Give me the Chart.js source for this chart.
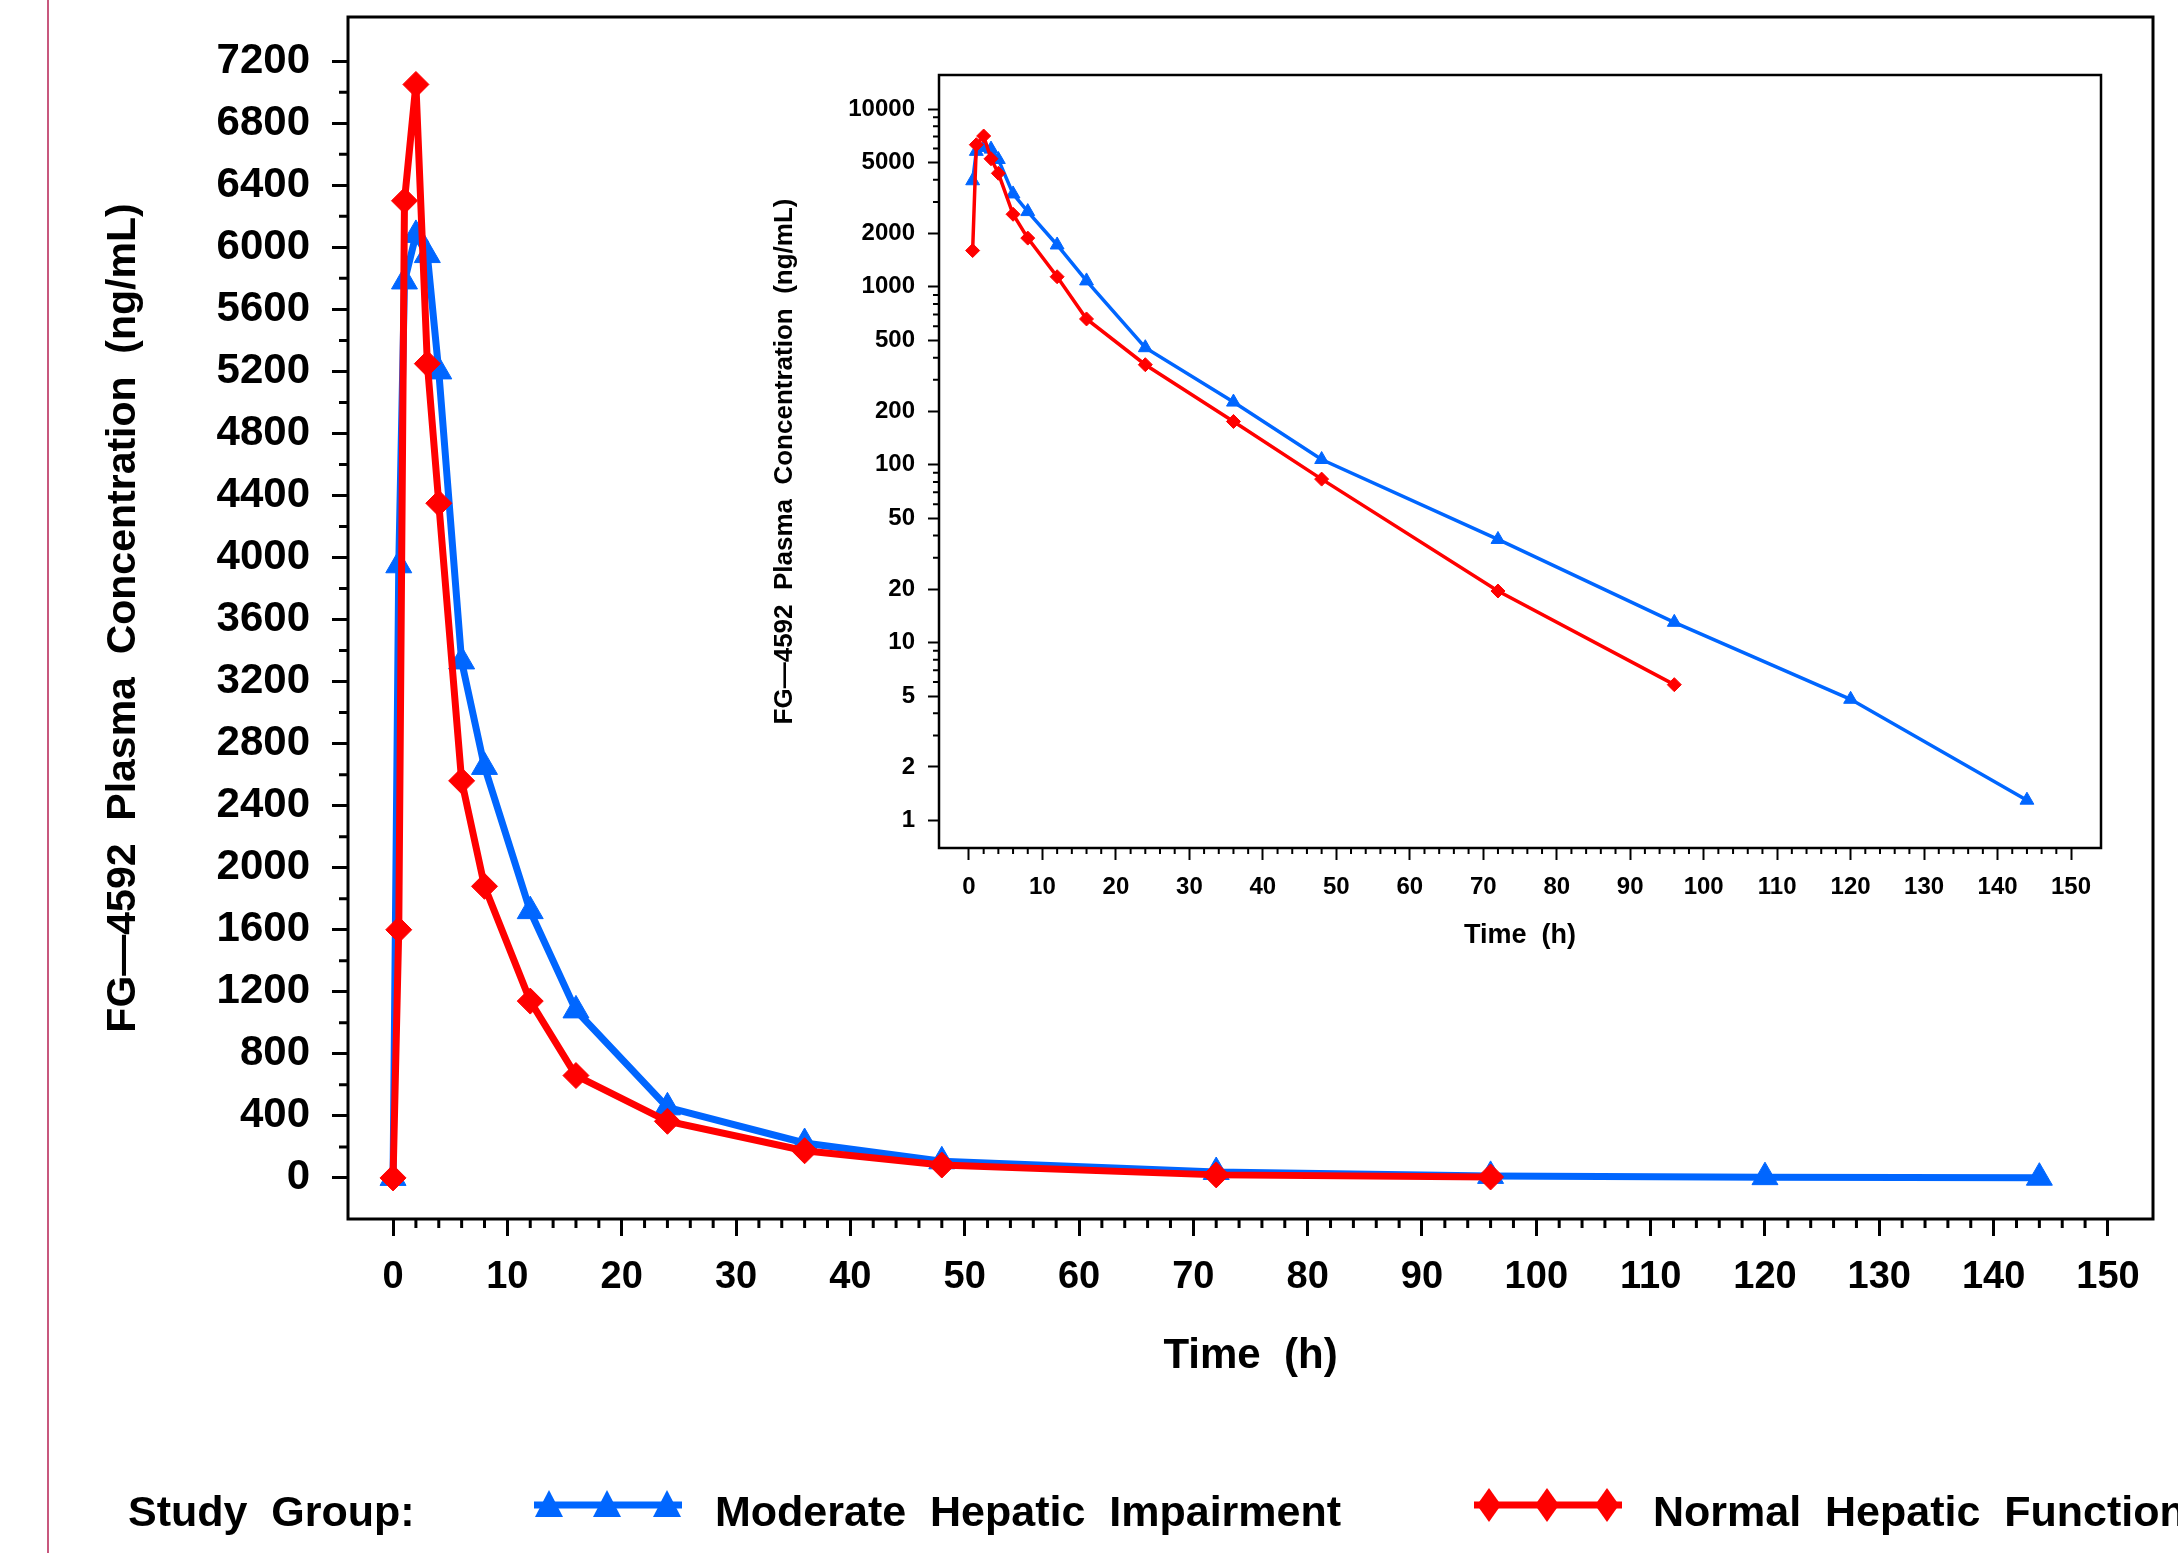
<!DOCTYPE html>
<html>
<head>
<meta charset="utf-8">
<script src="https://cdn.jsdelivr.net/npm/chart.js@4.4.1/dist/chart.umd.min.js"></script>
<style>
  html, body { margin: 0; padding: 0; background: #fff; }
  body { width: 2178px; height: 1553px; position: relative; overflow: hidden;
         font-family: "Liberation Sans", Arial, sans-serif; font-weight: bold; }
  #main { position: absolute; left: 0; top: 0; }
  #inset { position: absolute; left: 700px; top: 40px; }
  .edge { position: absolute; left: 47px; top: 0; width: 2px; height: 1553px; background: #c8587e; }
  .leg { position: absolute; top: 1481px; height: 60px; line-height: 60px; font-size: 43px; white-space: pre; color: #000; }
  .sym { position: absolute; top: 1481px; }
</style>
</head>
<body>
<div class="edge"></div>
<canvas id="main" width="2178" height="1553"></canvas>
<canvas id="inset" width="1430" height="940"></canvas>

<div class="leg" style="left:128px">Study  Group:</div>
<svg class="sym" style="left:530px" width="156" height="60">
  <line x1="4" y1="24" x2="152" y2="24" stroke="#0066ff" stroke-width="7"/>
  <polygon points="19,9 5,36 33,36" fill="#0066ff"/>
  <polygon points="77,9 63,36 91,36" fill="#0066ff"/>
  <polygon points="137,9 123,36 151,36" fill="#0066ff"/>
</svg>
<div class="leg" style="left:715px">Moderate  Hepatic  Impairment</div>
<svg class="sym" style="left:1470px" width="156" height="60">
  <line x1="4" y1="24" x2="152" y2="24" stroke="#ff0000" stroke-width="7"/>
  <polygon points="19,7 31,24 19,41 7,24" fill="#ff0000"/>
  <polygon points="77,7 89,24 77,41 65,24" fill="#ff0000"/>
  <polygon points="137,7 149,24 137,41 125,24" fill="#ff0000"/>
</svg>
<div class="leg" style="left:1653px">Normal  Hepatic  Function</div>

<script>
// ====== Data ======
const TIME_MOD  = [0, 0.5, 1, 2, 3, 4, 6, 8, 12, 16, 24, 36, 48, 72, 96, 120, 144];
const CONC_MOD  = [0, 3950, 5780, 6080, 5950, 5200, 3330, 2650, 1720, 1080, 455, 225, 107, 38, 13, 4.8, 1.3];
const TIME_NORM = [0, 0.5, 1, 2, 3, 4, 6, 8, 12, 16, 24, 36, 48, 72, 96];
const CONC_NORM = [0, 1600, 6300, 7050, 5250, 4350, 2560, 1880, 1140, 660, 365, 175, 83, 19.5, 5.8];

const X_TICKS     = [0, 10, 20, 30, 40, 50, 60, 70, 80, 90, 100, 110, 120, 130, 140, 150];
const LIN_Y_TICKS = [0, 400, 800, 1200, 1600, 2000, 2400, 2800, 3200, 3600, 4000, 4400, 4800, 5200, 5600, 6000, 6400, 6800, 7200];
const LOG_Y_TICKS = [1, 2, 5, 10, 20, 50, 100, 200, 500, 1000, 2000, 5000, 10000];

const BLUE = '#0066ff';
const RED = '#ff0000';
const FONT = '"Liberation Sans", Arial, sans-serif';

const pts = (xs, ys) => xs.map((t, i) => ({ x: t, y: ys[i] }));

// minor tick positions
const xMinor = [];
for (let v = 0; v <= 150; v += 2) if (v % 10) xMinor.push(v);
const linMinor = LIN_Y_TICKS.slice(0, -1).map(v => v + 200);
const logMinor = [];
[1, 10, 100, 1000].forEach(d => [3, 4, 6, 7, 8, 9].forEach(m => logMinor.push(m * d)));

// ====== Frame + minor ticks ======
const framePlugin = {
  id: 'frame',
  afterDraw(chart, args, opts) {
    const { ctx, chartArea: a, scales } = chart;
    ctx.save();
    ctx.strokeStyle = '#000';
    ctx.lineWidth = opts.frameWidth;
    ctx.strokeRect(a.left, a.top, a.right - a.left, a.bottom - a.top);
    ctx.lineWidth = opts.tickWidth;
    ctx.beginPath();
    opts.xMinor.forEach(v => {
      const px = scales.x.getPixelForValue(v);
      ctx.moveTo(px, a.bottom);
      ctx.lineTo(px, a.bottom + opts.minorLen);
    });
    opts.yMinor.forEach(v => {
      const py = scales.y.getPixelForValue(v);
      ctx.moveTo(a.left, py);
      ctx.lineTo(a.left - opts.minorLen, py);
    });
    ctx.stroke();
    ctx.restore();
  }
};

function axisGrid(len, w) {
  return { display: true, drawOnChartArea: false, drawTicks: true, tickLength: len, tickWidth: w, tickColor: '#000' };
}

// fixed box sizes, no label overflow padding
function fixW(w) {
  return s => { s.width = w; s.paddingTop = 0; s.paddingBottom = 0; };
}
function fixH(h) {
  return s => { s.height = h; s.paddingLeft = 0; s.paddingRight = 0; };
}

// ====== Main (linear) chart ======
new Chart(document.getElementById('main'), {
  type: 'line',
  data: {
    datasets: [
      {
        label: 'Moderate Hepatic Impairment',
        data: pts(TIME_MOD, CONC_MOD),
        borderColor: BLUE, backgroundColor: BLUE,
        borderWidth: 7, tension: 0, order: 1,
        pointStyle: 'triangle', pointRadius: 15, pointBorderWidth: 1
      },
      {
        label: 'Normal Hepatic Function',
        data: pts(TIME_NORM, CONC_NORM),
        borderColor: RED, backgroundColor: RED,
        borderWidth: 7, tension: 0, order: 0,
        pointStyle: 'rectRot', pointRadius: 13, pointBorderWidth: 1
      }
    ]
  },
  options: {
    responsive: false,
    animation: false,
    layout: { padding: { left: 0, top: 17, right: 25, bottom: 171 } },
    plugins: {
      legend: { display: false },
      tooltip: { enabled: false },
      frame: { frameWidth: 3, tickWidth: 3, minorLen: 9, xMinor: xMinor, yMinor: linMinor }
    },
    scales: {
      x: {
        type: 'linear', min: -3.94, max: 153.94,
        afterBuildTicks: s => { s.ticks = X_TICKS.map(v => ({ value: v })); },
        afterFit: fixH(163),
        grid: axisGrid(17, 3),
        border: { display: false },
        ticks: { autoSkip: false, maxRotation: 0, padding: 19, color: '#000',
                 font: { family: FONT, size: 38, weight: 'bold' }, callback: v => String(v) },
        title: { display: true, text: 'Time  (h)', color: '#000', padding: 0,
                 font: { family: FONT, size: 42, weight: 'bold' } }
      },
      y: {
        type: 'linear', min: -265, max: 7485,
        afterBuildTicks: s => { s.ticks = LIN_Y_TICKS.map(v => ({ value: v })); },
        afterFit: fixW(348),
        grid: axisGrid(16, 3),
        border: { display: false },
        ticks: { autoSkip: false, padding: 22, color: '#000',
                 font: { family: FONT, size: 42, weight: 'bold' }, callback: v => String(v) },
        title: { display: true, text: 'FG\u20144592  Plasma  Concentration  (ng/mL)', color: '#000',
                 padding: { top: 99, bottom: 0 },
                 font: { family: FONT, size: 41, weight: 'bold' } }
      }
    }
  },
  plugins: [framePlugin]
});

// ====== Inset (log) chart ======
const pos = (xs, ys) => pts(xs, ys).filter(p => p.y > 0);

new Chart(document.getElementById('inset'), {
  type: 'line',
  data: {
    datasets: [
      {
        label: 'Moderate Hepatic Impairment',
        data: pos(TIME_MOD, CONC_MOD),
        borderColor: BLUE, backgroundColor: BLUE,
        borderWidth: 3.5, tension: 0, order: 1,
        pointStyle: 'triangle', pointRadius: 8, pointBorderWidth: 1
      },
      {
        label: 'Normal Hepatic Function',
        data: pos(TIME_NORM, CONC_NORM),
        borderColor: RED, backgroundColor: RED,
        borderWidth: 3.5, tension: 0, order: 0,
        pointStyle: 'rectRot', pointRadius: 7, pointBorderWidth: 1
      }
    ]
  },
  options: {
    responsive: false,
    animation: false,
    layout: { padding: { left: 0, top: 35, right: 29, bottom: 28 } },
    plugins: {
      legend: { display: false },
      tooltip: { enabled: false },
      frame: { frameWidth: 2.5, tickWidth: 2, minorLen: 6, xMinor: xMinor, yMinor: logMinor }
    },
    scales: {
      x: {
        type: 'linear', min: -4.08, max: 154.08,
        afterBuildTicks: s => { s.ticks = X_TICKS.map(v => ({ value: v })); },
        afterFit: fixH(104),
        grid: axisGrid(12, 2),
        border: { display: false },
        ticks: { autoSkip: false, maxRotation: 0, padding: 12.6, color: '#000',
                 font: { family: FONT, size: 24, weight: 'bold' }, callback: v => String(v) },
        title: { display: true, text: 'Time  (h)', color: '#000', padding: 0,
                 font: { family: FONT, size: 27, weight: 'bold' } }
      },
      y: {
        type: 'logarithmic', min: 0.705, max: 15530,
        afterBuildTicks: s => { s.ticks = LOG_Y_TICKS.map(v => ({ value: v })); },
        afterFit: fixW(239),
        grid: axisGrid(11, 2),
        border: { display: false },
        ticks: { autoSkip: false, padding: 13, color: '#000',
                 font: { family: FONT, size: 24, weight: 'bold' }, callback: v => String(v) },
        title: { display: true, text: 'FG\u20144592  Plasma  Concentration  (ng/mL)', color: '#000',
                 padding: { top: 69, bottom: 0 },
                 font: { family: FONT, size: 26, weight: 'bold' } }
      }
    }
  },
  plugins: [framePlugin]
});
</script>
</body>
</html>
